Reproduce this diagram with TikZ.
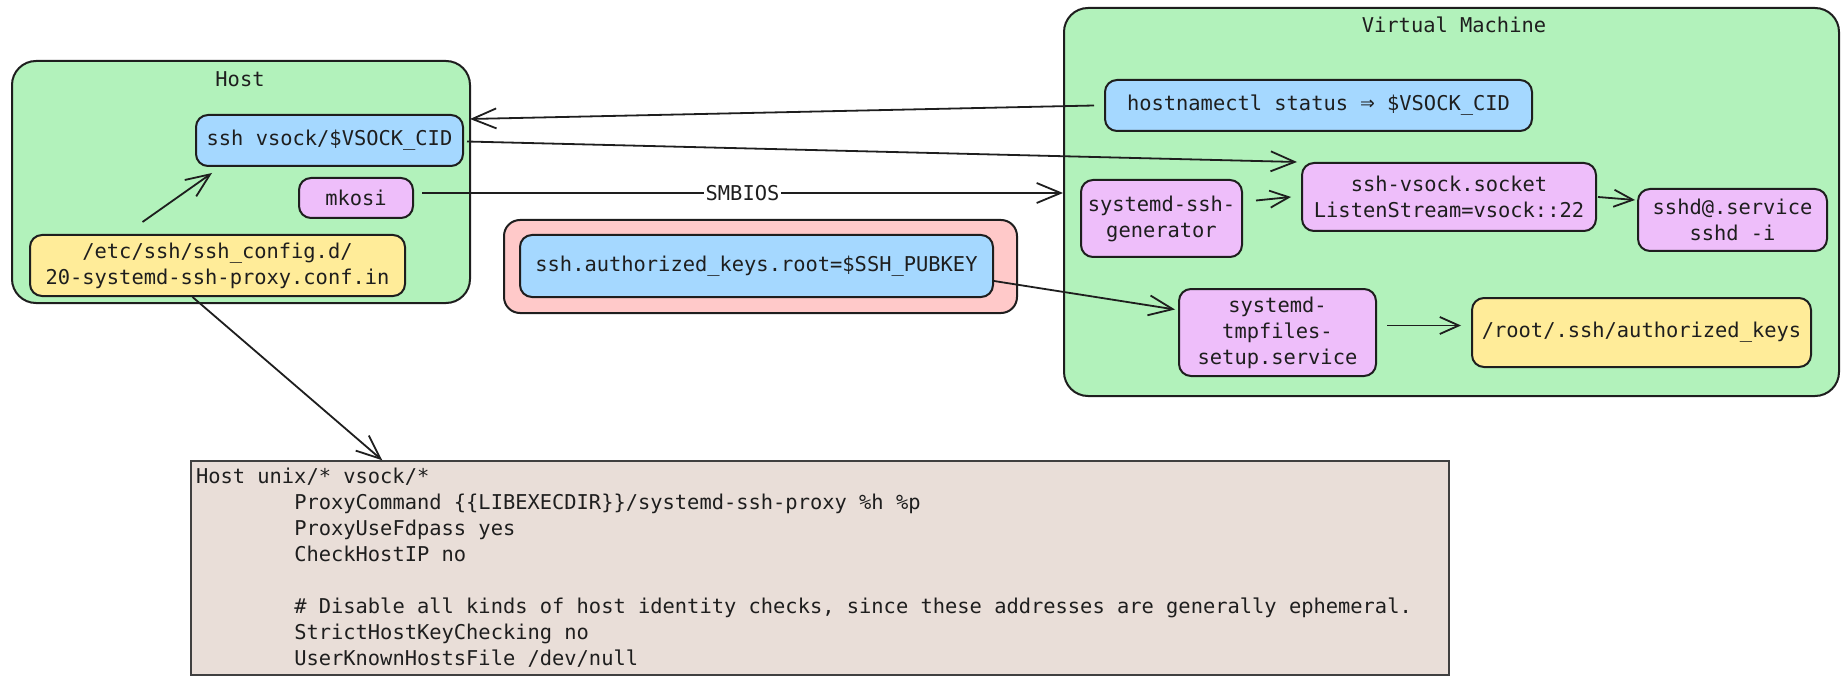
\documentclass[tikz,border=0pt]{standalone}
\usepackage{fontspec}
\newfontfamily\codefont[WordSpace={1,0,0}]{DejaVu Sans Mono}
\usetikzlibrary{arrows.meta,calc}
\definecolor{grn}{HTML}{B2F2BB}
\definecolor{blu}{HTML}{A5D8FF}
\definecolor{vio}{HTML}{EEBEFA}
\definecolor{yel}{HTML}{FFEC99}
\definecolor{rdd}{HTML}{FFC9C9}
\definecolor{brn}{HTML}{E9DED8}
\definecolor{ink}{HTML}{1E1E1E}
\newcommand\codetab{\phantom{00000000}}
\tikzset{
 lbl/.style={font=\codefont\fontsize{20.4pt}{26pt}\selectfont, text=ink,
   execute at begin node={\spaceskip=0pt\xspaceskip=0pt\relax}},
 frame/.style={lbl, draw=ink, line width=2pt, rounded corners=24pt, inner sep=0pt},
 box/.style={lbl, draw=ink, line width=2pt, rounded corners=12pt, inner sep=0pt, align=center},
 arr/.style={draw=ink, line width=1.8pt, -{Straight Barb[length=19pt,width=17pt]}},
 bigarr/.style={draw=ink, line width=1.8pt, -{Straight Barb[length=24pt,width=20pt]}},
}
\begin{document}
\begin{tikzpicture}[x=1pt,y=-1pt]
\useasboundingbox (0,0) rectangle (1841,676);
% frames
\node[frame, fill=grn, minimum width=458pt, minimum height=242pt] (host) at (241,182) {};
\node[frame, fill=grn, minimum width=775pt, minimum height=388pt] (vm) at (1451.5,202) {};
\node[lbl] (hosttitle) at (240,79) {Host};
\node[lbl] (vmtitle) at (1454,25) {Virtual Machine};
% host nodes
\node[box, fill=blu, minimum width=267pt, minimum height=51pt] (ssh) at (329.5,140.5) {ssh vsock/\$VSOCK\_CID};
\node[box, fill=vio, minimum width=114pt, minimum height=40pt] (mkosi) at (356,198) {mkosi};
\node[box, fill=yel, minimum width=375pt, minimum height=61pt] (config) at (217.5,265.5) {/etc/ssh/ssh\_config.d/\\20-systemd-ssh-proxy.conf.in};
% vm nodes
\node[box, fill=blu, minimum width=427pt, minimum height=51pt] (hostname) at (1318.5,105.5) {hostnamectl status {\fontsize{24pt}{26pt}\selectfont ⇒} \$VSOCK\_CID};
\node[box, fill=vio, minimum width=161pt, minimum height=77pt] (gen) at (1161.5,218.5) {systemd-ssh-\\generator};
\node[box, fill=vio, minimum width=294pt, minimum height=68pt] (socket) at (1449,197) {ssh-vsock.socket\\ListenStream=vsock::22};
\node[box, fill=vio, minimum width=189pt, minimum height=62pt] (sshd) at (1732.5,220) {sshd@.service\\sshd -i};
\node[box, fill=vio, minimum width=197pt, minimum height=87pt] (tmp) at (1277.5,332.5) {systemd-\\tmpfiles-\\setup.service};
\node[box, fill=yel, minimum width=339pt, minimum height=69pt] (auth) at (1641.5,332.5) {/root/.ssh/authorized\_keys};
% kernel cmdline
\node[box, fill=rdd, rounded corners=16pt, minimum width=513pt, minimum height=93pt] (pink) at (760.5,266.5) {};
\node[box, fill=blu, minimum width=473pt, minimum height=62pt] (pubkey) at (756.5,266) {ssh.authorized\_keys.root=\$SSH\_PUBKEY};
% code
\node[lbl, draw=ink!85, fill=brn, line width=1.5pt, text width=1248pt, inner xsep=5pt, inner ysep=0pt, minimum height=214pt, align=flush left] (code) at (820,568) {Host unix/* vsock/*\\
\codetab ProxyCommand \{\{LIBEXECDIR\}\}/systemd-ssh-proxy \%h \%p\\
\codetab ProxyUseFdpass yes\\
\codetab CheckHostIP no\\
\mbox{}\\
\codetab \# Disable all kinds of host identity checks, since these addresses are generally ephemeral.\\
\codetab StrictHostKeyChecking no\\
\codetab UserKnownHostsFile /dev/null};
% connectors
\draw[bigarr] ([xshift=-10pt]hostname.west) -- ([xshift=6pt,yshift=-5pt]ssh.north east);
\draw[bigarr] ([xshift=3pt,yshift=-1pt]ssh.east) -- ([xshift=-4pt]socket.north west);
\coordinate (smbS) at ([xshift=8pt,yshift=5pt]mkosi.east);
\draw[bigarr] (smbS) -- (smbS -| vm.west) node[midway, lbl, fill=white, inner sep=2pt] (smb) {SMBIOS};
\draw[arr] ([xshift=13pt,yshift=18pt]gen.east) -- ([xshift=-10pt]socket.west);
\draw[arr] ([xshift=1pt]socket.east) -- ([xshift=-2pt,yshift=20pt]sshd.west);
\draw[bigarr] ([yshift=-15pt]pubkey.east) -- ([xshift=-3pt,yshift=23pt]tmp.west);
\draw[arr] ([xshift=10pt,yshift=7pt]tmp.east) -- ([xshift=-10pt,yshift=7pt]auth.west);
\draw[bigarr] ([xshift=-75pt,yshift=12pt]config.north) -- ([xshift=17pt,yshift=-6pt]ssh.south west);
\draw[bigarr] ([xshift=-25pt]config.south) -- ([xshift=192pt]code.north west);
\end{tikzpicture}
\end{document}
